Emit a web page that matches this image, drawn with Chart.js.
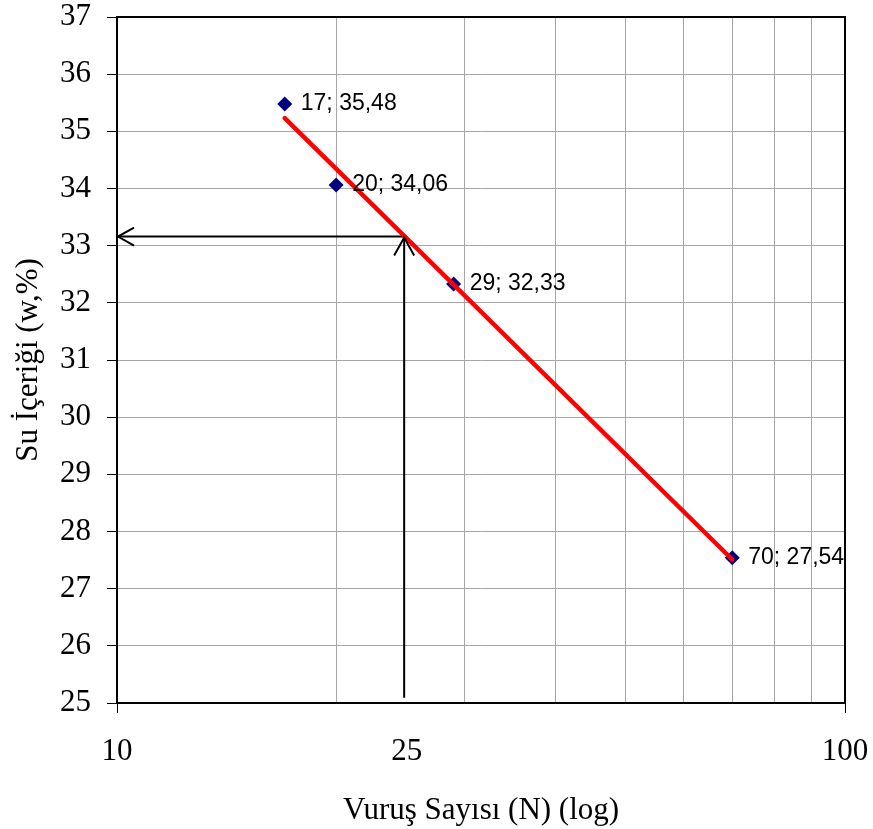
<!DOCTYPE html>
<html>
<head>
    <script src="https://cdn.jsdelivr.net/npm/chart.js"></script>
    <style>
        html, body { margin: 0; padding: 0; background: #fff; }
        .chart-container { position: relative; width: 873px; height: 829px; }
    </style>
</head>
<body>
    <div class="chart-container">
        <canvas id="likitChart" width="873" height="829"></canvas>
    </div>
    <script type="text/javascript">
        // measured points (blow count N, water content w %)
        var blowCounts = [17, 20, 29, 70];
        var waterContents = [35.48, 34.06, 32.33, 27.54];
        var pointLabels = ['17; 35,48', '20; 34,06', '29; 32,33', '70; 27,54'];

        // trend line end points
        var trendN = [17, 70];
        var trendW = [35.23, 27.51];

        // reading arrows at N = 25
        var hArrowN = [24.8, 10];
        var hArrowW = [33.16, 33.16];
        var vArrowN = [24.8, 24.8];
        var vArrowW = [25.09, 33.16];

        var xTickValues = [10, 20, 25, 30, 40, 50, 60, 70, 80, 90, 100];
        var xTickLabels = ['10', '', '25', '', '', '', '', '', '', '', '100'];

        function toXY(xs, ys) {
            return xs.map(function (x, i) { return { x: x, y: ys[i] }; });
        }

        var serif = 'Liberation Serif';
        var gridGray = '#a6a6a6';

        var framePlugin = {
            id: 'frameAndLabels',
            afterDatasetsDraw: function (chart) {
                var ctx = chart.ctx;
                var xs = chart.scales.x, ys = chart.scales.y;
                ctx.save();
                // arrow heads
                ctx.strokeStyle = '#000';
                ctx.lineWidth = 2;
                var hx = xs.getPixelForValue(hArrowN[1]), hy = ys.getPixelForValue(hArrowW[1]);
                ctx.beginPath();
                ctx.moveTo(hx + 17, hy - 9);
                ctx.lineTo(hx + 1, hy);
                ctx.lineTo(hx + 17, hy + 9);
                ctx.stroke();
                var vx = xs.getPixelForValue(vArrowN[1]), vy = ys.getPixelForValue(vArrowW[1]);
                ctx.beginPath();
                ctx.moveTo(vx - 10, vy + 19);
                ctx.lineTo(vx, vy + 1);
                ctx.lineTo(vx + 10, vy + 19);
                ctx.stroke();
                // point labels
                var meta = chart.getDatasetMeta(1);
                ctx.fillStyle = '#000';
                ctx.font = '23px "Liberation Sans"';
                ctx.textBaseline = 'middle';
                ctx.textAlign = 'left';
                meta.data.forEach(function (el, i) {
                    ctx.fillText(pointLabels[i], el.x + 16, el.y);
                });
                ctx.restore();
            },
            afterDraw: function (chart) {
                var a = chart.chartArea, ctx = chart.ctx;
                ctx.save();
                ctx.strokeStyle = '#000';
                ctx.lineWidth = 2;
                ctx.strokeRect(a.left, a.top, a.right - a.left, a.bottom - a.top);
                ctx.restore();
            }
        };

        var ctx = document.getElementById('likitChart').getContext('2d');
        var chart = new Chart(ctx, {
            type: 'scatter',
            data: {
                datasets: [{
                    data: toXY(trendN, trendW),
                    showLine: true,
                    borderColor: '#ff0000',
                    borderWidth: 4.5,
                    pointRadius: 0,
                    borderCapStyle: 'round'
                }, {
                    data: toXY(blowCounts, waterContents),
                    pointStyle: 'rectRot',
                    pointRadius: 7.5,
                    pointBackgroundColor: '#000080',
                    pointBorderColor: '#000080',
                    pointBorderWidth: 0,
                    showLine: false
                }, {
                    data: toXY(hArrowN, hArrowW),
                    showLine: true,
                    borderColor: '#000',
                    borderWidth: 2,
                    pointRadius: 0,
                    clip: false
                }, {
                    data: toXY(vArrowN, vArrowW),
                    showLine: true,
                    borderColor: '#000',
                    borderWidth: 2,
                    pointRadius: 0,
                    clip: false
                }]
            },
            options: {
                responsive: false,
                animation: false,
                devicePixelRatio: 1,
                layout: { padding: { top: 17, right: 28, left: 0, bottom: 0 } },
                plugins: {
                    legend: { display: false },
                    tooltip: { enabled: false }
                },
                scales: {
                    x: {
                        type: 'logarithmic',
                        min: 10,
                        max: 100,
                        afterBuildTicks: function (scale) {
                            scale.ticks = xTickValues.map(function (v) { return { value: v }; });
                        },
                        afterFit: function (scale) {
                            scale.height = 126;
                            scale.paddingLeft = 0;
                            scale.paddingRight = 0;
                        },
                        ticks: {
                            autoSkip: false,
                            maxRotation: 0,
                            padding: 20,
                            color: '#000',
                            font: { family: serif, size: 31 },
                            callback: function (value) {
                                var i = xTickValues.indexOf(value);
                                return i >= 0 ? xTickLabels[i] : '';
                            }
                        },
                        grid: {
                            color: function (c) { return c.tick && c.tick.value === 25 ? 'rgba(0,0,0,0)' : gridGray; },
                            tickColor: function (c) {
                                return c.tick && (c.tick.value === 10 || c.tick.value === 100) ? '#000' : 'rgba(0,0,0,0)';
                            },
                            tickLength: 10,
                            lineWidth: 1
                        },
                        border: { color: '#000', width: 2 },
                        title: {
                            display: true,
                            text: 'Vuruş Sayısı (N) (log)',
                            color: '#000',
                            font: { family: serif, size: 31 },
                            padding: { top: 8, bottom: 0 }
                        }
                    },
                    y: {
                        min: 25,
                        max: 37,
                        afterFit: function (scale) {
                            scale.width = 117;
                            scale.paddingTop = 0;
                            scale.paddingBottom = 0;
                        },
                        ticks: {
                            stepSize: 1,
                            padding: 16,
                            color: '#000',
                            font: { family: serif, size: 31 }
                        },
                        grid: {
                            color: gridGray,
                            tickColor: '#000',
                            tickLength: 10,
                            lineWidth: 1
                        },
                        border: { color: '#000', width: 2 },
                        title: {
                            display: true,
                            text: 'Su İçeriği (w,%)',
                            color: '#000',
                            font: { family: serif, size: 31 },
                            padding: { top: 10, bottom: 0 }
                        }
                    }
                }
            },
            plugins: [framePlugin]
        });
    </script>
</body>
</html>
